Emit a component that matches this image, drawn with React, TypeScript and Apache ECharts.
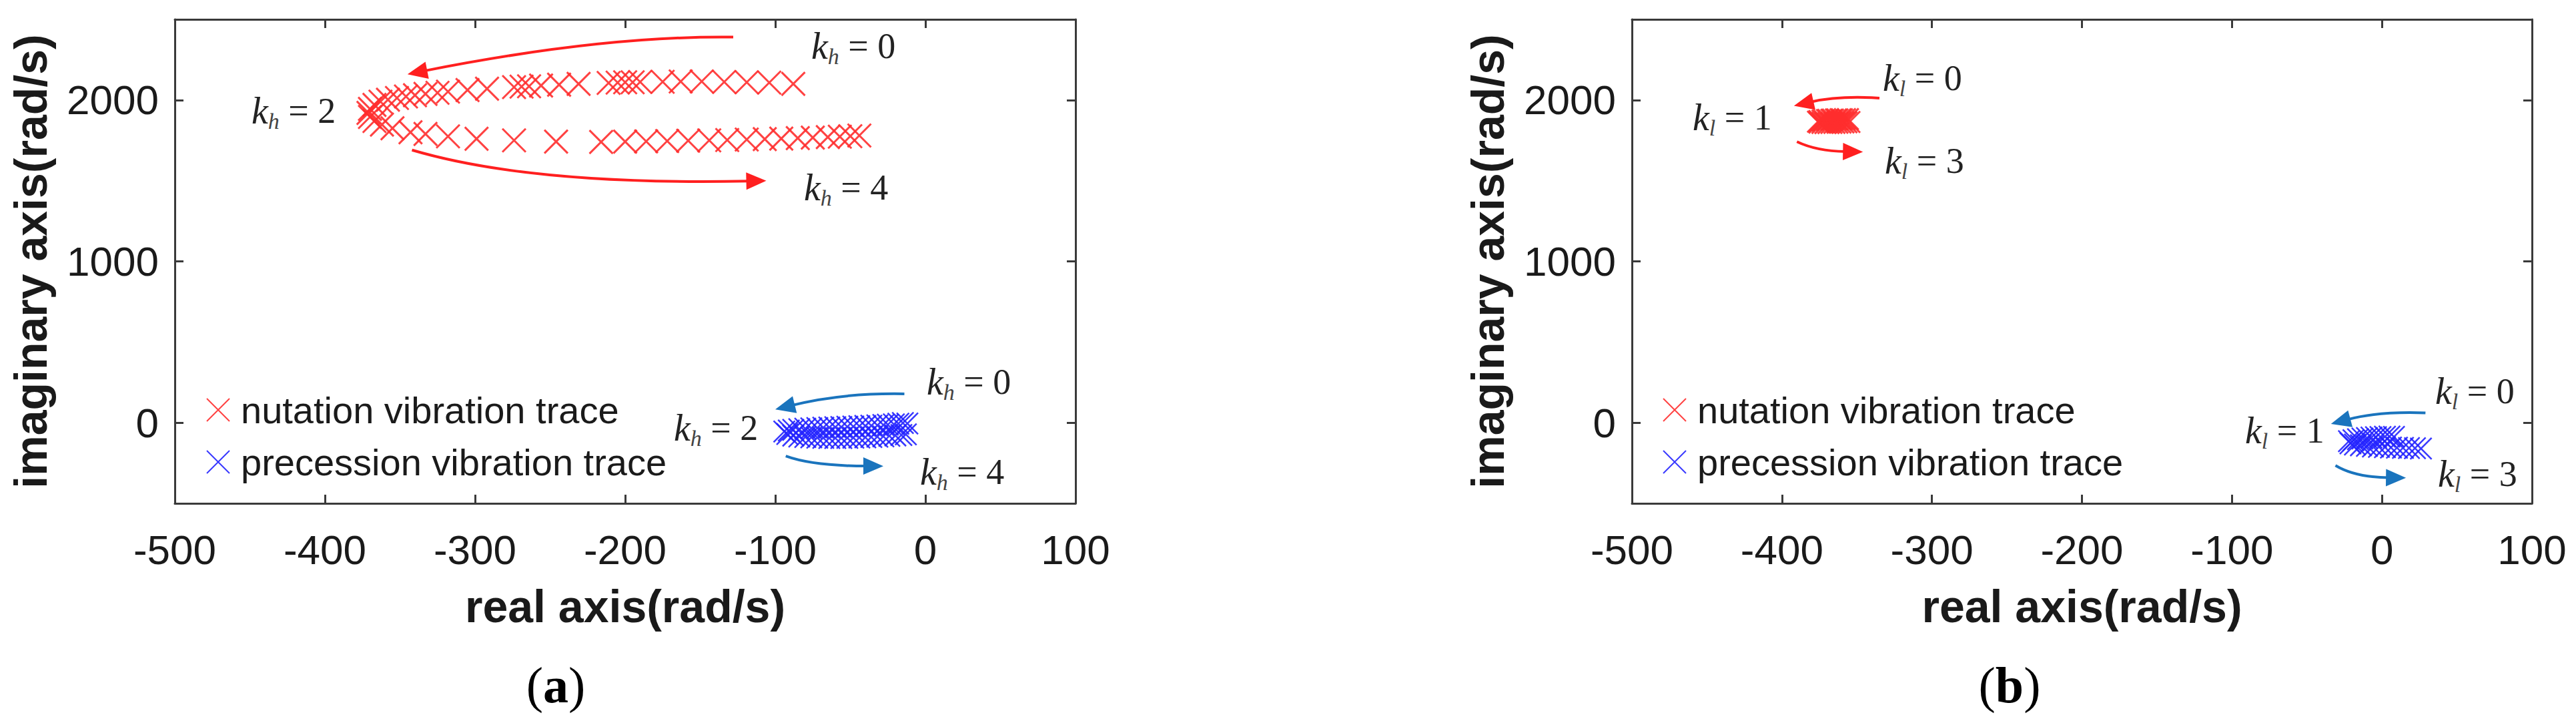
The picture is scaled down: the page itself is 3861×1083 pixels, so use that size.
import React, { useEffect, useRef } from "react";
import * as echarts from "echarts";

// ---------------- data ----------------
const xMin = -500;
const xMax = 100;
const xStep = 100;
const yMin = -500;
const yMax = 2500;
const yTickValues = [0, 1000, 2000];

const seriesNames = ["nutation vibration trace", "precession vibration trace"];
const xTitle = "real axis(rad/s)";
const yTitle = "imaginary axis(rad/s)";

// panel (a): nutation trace, k_h from 0 to 4
const nutA_x = [
  -88, -104, -119, -134, -149, -163, -175, -190, -195, -200, -205, -211, -231, -244,
  -256, -264, -269, -274, -292, -305, -318, -325, -333, -340, -346, -352, -358, -363,
  -367, -370, -371, -370, -367, -362,
  -355, -343, -333, -318, -299, -274, -246, -216, -200, -186, -172, -158, -144, -132,
  -119, -107, -96, -85, -75, -65, -57, -50, -44,
];
const nutA_y = [
  2100, 2108, 2110, 2112, 2115, 2115, 2113, 2112, 2110, 2110, 2108, 2106, 2100, 2095,
  2090, 2085, 2083, 2080, 2070, 2062, 2052, 2045, 2038, 2030, 2022, 2013, 2002, 1990,
  1970, 1945, 1920, 1895, 1870, 1848,
  1825, 1800, 1790, 1775, 1760, 1750, 1742, 1740, 1742, 1744, 1746, 1748, 1750, 1752,
  1755, 1758, 1761, 1764, 1767, 1770, 1773, 1776, 1780,
];
// panel (a): precession trace
const preA_x = [
  -12, -15, -18, -21, -25, -28, -32, -36, -40, -44, -48, -52, -56, -60, -64, -68, -72,
  -76, -80, -84, -88, -91, -94,
  -92, -88, -84, -80, -76, -72, -68, -64, -60, -56, -52, -48, -44, -40, -36, -32, -28,
  -24, -20, -16, -13,
];
const preA_y = [
  -5, -2, -6, -10, -12, -14, -16, -18, -20, -22, -24, -25, -27, -28, -30, -31, -33,
  -35, -37, -40, -44, -48, -55,
  -70, -80, -86, -89, -91, -93, -94, -95, -95, -95, -94, -93, -92, -91, -89, -87, -85,
  -82, -79, -76, -72,
];
// panel (b): nutation trace, k_l from 0 to 3
const nutB_x = [
  -356, -358, -360, -361, -363, -364, -366, -367, -369, -370, -372, -373, -375, -376,
  -375, -373, -371, -369, -367, -365, -363, -361, -359, -357, -355,
];
const nutB_y = [
  1882, 1882, 1881, 1881, 1880, 1880, 1879, 1878, 1877, 1876, 1874, 1872, 1870, 1866,
  1860, 1858, 1857, 1857, 1858, 1858, 1859, 1860, 1861, 1862, 1864,
];
// panel (b): precession trace
const preB_x = [
  8, 5, 2, -1, -4, -7, -10, -13, -16, -19, -22,
  -21, -18, -14, -10, -6, -2, 2, 6, 10, 14, 18, 22, 26,
];
const preB_y = [
  -88, -86, -87, -89, -90, -92, -95, -98, -102, -108, -115,
  -128, -135, -140, -144, -148, -150, -152, -154, -155, -156, -157, -158, -160,
];

// annotation arrows: [start x, start y, control x, control y, end x, end y] in data units
const arrowsA_red = [
  [-128, 2390, -215, 2400, -345, 2160],
  [-342, 1690, -262, 1470, -106, 1500],
];
const arrowsA_blue = [
  [-14, 179, -55, 186, -100, 82],
  [-93, -207, -75, -268, -28, -269],
];
const arrowsB_red = [
  [-335, 2012, -362, 2028, -392, 1964],
  [-390, 1742, -377, 1684, -346, 1679],
];
const arrowsB_blue = [
  [29, 61, -2, 72, -34, -8],
  [-31, -265, -18, -338, 16, -342],
];

// annotation label texts
const labelsA = [
  { sub: "h", val: "0" },
  { sub: "h", val: "2" },
  { sub: "h", val: "4" },
];
const labelsB = [
  { sub: "l", val: "0" },
  { sub: "l", val: "1" },
  { sub: "l", val: "3" },
];
const captions = ["a", "b"];

// ---------------- styles ----------------
const CROSS = "path://M0,0L10,10M10,0L0,10";
const RED = "#ff2d2d";
const BLUE = "#2424ff";
const ARROW_RED = "#ff1f1f";
const ARROW_BLUE = "#1a74bd";
const AXIS = "#3a3a3a";
const TXT = "#1a1a1a";
const SANS = "Liberation Sans, Arial, sans-serif";
const SERIF = "Liberation Serif, Times New Roman, serif";

const zip = (xs: number[], ys: number[]) => xs.map((x, i) => [x, ys[i]]);

function xAxis(gridIndex: number, position: "bottom" | "top") {
  const bottom = position === "bottom";
  return {
    type: "value",
    gridIndex,
    position,
    min: xMin,
    max: xMax,
    interval: xStep,
    axisLine: { show: true, onZero: false, lineStyle: { color: AXIS, width: 3 } },
    axisTick: { show: true, inside: true, length: 13, lineStyle: { color: AXIS, width: 3 } },
    axisLabel: {
      show: bottom,
      fontSize: 62,
      color: TXT,
      fontFamily: SANS,
      margin: 38,
      formatter: (v: number) => String(v),
    },
    splitLine: { show: false },
    name: bottom ? xTitle : "",
    nameLocation: "middle",
    nameGap: 120,
    nameTextStyle: { fontSize: 68, fontWeight: "bold", color: TXT, fontFamily: SANS },
  };
}

function yAxis(gridIndex: number, position: "left" | "right") {
  const left = position === "left";
  return {
    type: "value",
    gridIndex,
    position,
    min: yMin,
    max: yMax,
    axisLine: { show: true, onZero: false, lineStyle: { color: AXIS, width: 3 } },
    axisTick: {
      show: true,
      inside: true,
      length: 13,
      customValues: yTickValues,
      lineStyle: { color: AXIS, width: 3 },
    },
    axisLabel: {
      show: left,
      customValues: yTickValues,
      fontSize: 62,
      color: TXT,
      fontFamily: SANS,
      margin: 24,
      formatter: (v: number) => String(v),
    },
    splitLine: { show: false },
    name: left ? yTitle : "",
    nameLocation: "middle",
    nameGap: 182,
    nameTextStyle: { fontSize: 68, fontWeight: "bold", color: TXT, fontFamily: SANS },
  };
}

function crossSeries(
  name: string,
  data: number[][],
  color: string,
  axisIndex: number,
  width: number,
  size: number
) {
  return {
    type: "scatter",
    name,
    data,
    xAxisIndex: axisIndex,
    yAxisIndex: axisIndex,
    symbol: CROSS,
    symbolSize: size,
    itemStyle: { color, borderColor: color, borderWidth: width, opacity: 0.9 },
    emphasis: { disabled: true },
  };
}

function kLabel(sub: string, val: string, x: number, y: number) {
  return {
    type: "text",
    x,
    y,
    z: 10,
    style: {
      text: `{k|k}{s|${sub}}{e| = ${val}}`,
      align: "left",
      verticalAlign: "middle",
      fill: "#222",
      rich: {
        k: { fontFamily: SERIF, fontStyle: "italic", fontSize: 56, fill: "#222" },
        s: {
          fontFamily: SERIF,
          fontStyle: "italic",
          fontSize: 34,
          fill: "#444",
          padding: [30, 0, 0, 0],
        },
        e: { fontFamily: SERIF, fontSize: 54, fill: "#222" },
      },
    },
  };
}

function caption(letter: string, x: number, y: number) {
  return {
    type: "text",
    x,
    y,
    style: {
      text: `{p|(}{b|${letter}}{p|)}`,
      align: "center",
      verticalAlign: "middle",
      fill: "#000",
      rich: {
        p: { fontFamily: SERIF, fontSize: 76, fill: "#000" },
        b: { fontFamily: SERIF, fontSize: 76, fontWeight: "bold", fill: "#000" },
      },
    },
  };
}

function legend(left: number) {
  return {
    data: seriesNames,
    orient: "vertical",
    left,
    top: 578,
    itemWidth: 34,
    itemHeight: 34,
    itemGap: 16,
    selectedMode: false,
    textStyle: {
      fontSize: 56,
      fontFamily: SANS,
      color: TXT,
      lineHeight: 62,
      padding: [0, 0, 0, 12],
    },
  };
}

// curved arrow built from data coordinates converted through the chart's axes
function arrowGraphics(chart: any, gi: number, arrows: number[][], color: string) {
  const out: any[] = [];
  const finder = { xAxisIndex: gi, yAxisIndex: gi };
  arrows.forEach(([x0, y0, cx, cy, x1, y1]) => {
    const p0 = chart.convertToPixel(finder, [x0, y0]);
    const pc = chart.convertToPixel(finder, [cx, cy]);
    const p1 = chart.convertToPixel(finder, [x1, y1]);
    let dx = p1[0] - pc[0];
    let dy = p1[1] - pc[1];
    const len = Math.hypot(dx, dy) || 1;
    dx /= len;
    dy /= len;
    const headLen = 30;
    const headHalf = 13;
    const bx = p1[0] - dx * headLen;
    const by = p1[1] - dy * headLen;
    out.push({
      type: "bezierCurve",
      silent: true,
      z: 5,
      shape: { x1: p0[0], y1: p0[1], cpx1: pc[0], cpy1: pc[1], x2: bx + dx * 4, y2: by + dy * 4 },
      style: { stroke: color, lineWidth: 4, fill: "none" },
    });
    out.push({
      type: "polygon",
      silent: true,
      z: 5,
      shape: {
        points: [
          [p1[0], p1[1]],
          [bx - dy * headHalf, by + dx * headHalf],
          [bx + dy * headHalf, by - dx * headHalf],
        ],
      },
      style: { fill: color, stroke: "none" },
    });
  });
  return out;
}

export default function App() {
  const ref = useRef<HTMLDivElement>(null);

  useEffect(() => {
    if (!ref.current) return;
    const chart = echarts.init(ref.current, null, { renderer: "svg" });
    const option = {
      animation: false,
      backgroundColor: "#ffffff",
      grid: [
        { left: 262, right: 3861 - 1612, top: 29, bottom: 1083 - 754, containLabel: false },
        { left: 2446, right: 3861 - 3795, top: 29, bottom: 1083 - 754, containLabel: false },
      ],
      xAxis: [xAxis(0, "bottom"), xAxis(1, "bottom"), xAxis(0, "top"), xAxis(1, "top")],
      yAxis: [yAxis(0, "left"), yAxis(1, "left"), yAxis(0, "right"), yAxis(1, "right")],
      legend: [legend(304), legend(2487)],
      series: [
        crossSeries(seriesNames[0], zip(nutA_x, nutA_y), RED, 0, 3, 35),
        crossSeries(seriesNames[1], zip(preA_x, preA_y), BLUE, 0, 2.5, 32),
        crossSeries(seriesNames[0], zip(nutB_x, nutB_y), RED, 1, 3, 32),
        crossSeries(seriesNames[1], zip(preB_x, preB_y), BLUE, 1, 2.5, 32),
      ],
    };
    chart.setOption(option as any);

    const graphics = [
      ...arrowGraphics(chart, 0, arrowsA_red, ARROW_RED),
      ...arrowGraphics(chart, 0, arrowsA_blue, ARROW_BLUE),
      ...arrowGraphics(chart, 1, arrowsB_red, ARROW_RED),
      ...arrowGraphics(chart, 1, arrowsB_blue, ARROW_BLUE),
      kLabel(labelsA[0].sub, labelsA[0].val, 1216, 69),
      kLabel(labelsA[1].sub, labelsA[1].val, 377, 166),
      kLabel(labelsA[2].sub, labelsA[2].val, 1205, 281),
      kLabel(labelsA[0].sub, labelsA[0].val, 1389, 572),
      kLabel(labelsA[1].sub, labelsA[1].val, 1010, 641),
      kLabel(labelsA[2].sub, labelsA[2].val, 1379, 707),
      kLabel(labelsB[0].sub, labelsB[0].val, 2822, 117),
      kLabel(labelsB[1].sub, labelsB[1].val, 2537, 176),
      kLabel(labelsB[2].sub, labelsB[2].val, 2825, 241),
      kLabel(labelsB[0].sub, labelsB[0].val, 3650, 586),
      kLabel(labelsB[1].sub, labelsB[1].val, 3365, 645),
      kLabel(labelsB[2].sub, labelsB[2].val, 3654, 710),
      caption(captions[0], 833, 1026),
      caption(captions[1], 3012, 1026),
    ];
    chart.setOption({ graphic: graphics } as any);
    return () => chart.dispose();
  }, []);

  return (
    <div
      ref={ref}
      style={{ position: "fixed", left: 0, top: 0, width: 3861, height: 1083, background: "#fff" }}
    />
  );
}
